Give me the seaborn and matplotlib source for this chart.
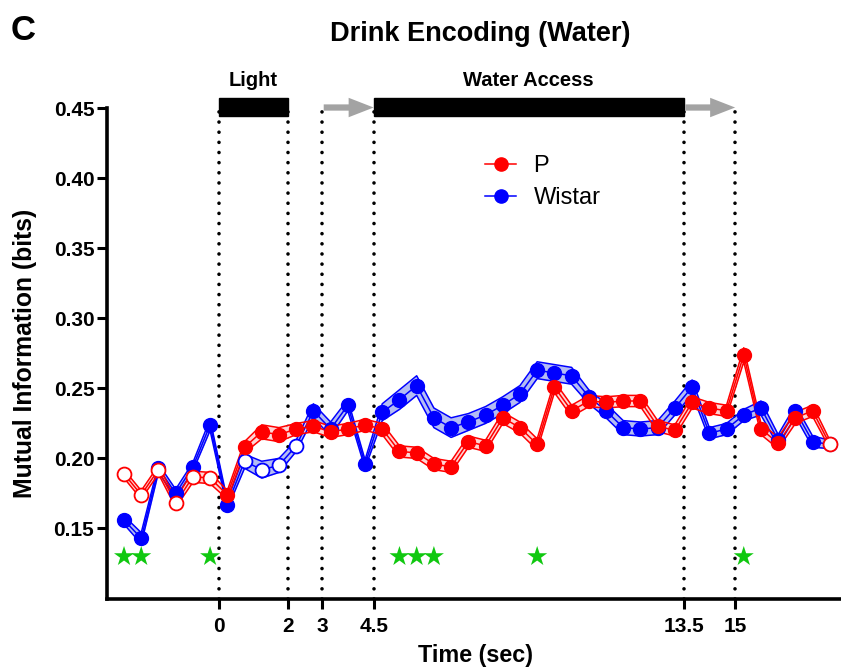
import numpy as np
import pandas as pd
import matplotlib
matplotlib.use("Agg")
import matplotlib.pyplot as plt
import seaborn as sns
from matplotlib.lines import Line2D
from matplotlib.patches import Rectangle

# Data: bin centres in seconds
time = [-2.75, -2.25, -1.75, -1.25, -0.75, -0.25, 0.25, 0.75, 1.25, 1.75, 2.25,
        2.75, 3.25, 3.75, 4.25, 4.75, 5.25, 5.75, 6.25, 6.75, 7.25, 7.75, 8.25,
        8.75, 9.25, 9.75, 10.25, 10.75, 11.25, 11.75, 12.25, 12.75, 13.25, 13.75,
        14.25, 14.75, 15.25, 15.75, 16.25, 16.75, 17.25, 17.75]

p_mean = [0.189, 0.174, 0.192, 0.168, 0.187, 0.186,
          0.174, 0.208, 0.219, 0.217, 0.221, 0.223, 0.219, 0.221, 0.224,
          0.221, 0.205, 0.204, 0.196, 0.194, 0.212, 0.209, 0.229, 0.222, 0.210,
          0.251, 0.234, 0.241, 0.240,
          0.241, 0.241, 0.223, 0.220, 0.240, 0.236, 0.234, 0.274, 0.221, 0.211,
          0.229, 0.234, 0.210]
p_sem = [0.003, 0.003, 0.003, 0.003, 0.004, 0.004,
         0.003, 0.004, 0.005, 0.005, 0.004, 0.004, 0.004, 0.004, 0.004,
         0.004, 0.004, 0.004, 0.004, 0.004, 0.004, 0.004, 0.004, 0.004, 0.004,
         0.004, 0.004, 0.004, 0.004,
         0.004, 0.004, 0.004, 0.004, 0.004, 0.004, 0.004, 0.005, 0.004, 0.004,
         0.004, 0.004, 0.003]
p_open = [1, 1, 1, 1, 1, 1] + [0] * 35 + [1]

w_mean = [0.156, 0.143, 0.193, 0.175, 0.194, 0.224,
          0.167, 0.198, 0.192, 0.195, 0.209, 0.234, 0.221, 0.238, 0.196,
          0.233, 0.242, 0.252, 0.229, 0.222, 0.226, 0.231, 0.238, 0.246, 0.263,
          0.261, 0.259, 0.244, 0.234,
          0.222, 0.221, 0.222, 0.236, 0.251, 0.218, 0.221, 0.231, 0.236, 0.213,
          0.234, 0.212, 0.210]
w_sem = [0.003, 0.004, 0.003, 0.003, 0.003, 0.004,
         0.003, 0.005, 0.006, 0.005, 0.004, 0.005, 0.005, 0.004, 0.003,
         0.006, 0.007, 0.007, 0.007, 0.007, 0.006, 0.006, 0.006, 0.006, 0.006,
         0.006, 0.006, 0.005, 0.005,
         0.005, 0.005, 0.005, 0.005, 0.005, 0.004, 0.004, 0.004, 0.005, 0.004,
         0.004, 0.004, 0.003]
w_open = [0] * 7 + [1, 1, 1, 1] + [0] * 31

star_times = [-2.75, -2.25, -0.25, 5.25, 5.75, 6.25, 9.25, 15.25]
event_times = [0, 2, 3, 4.5, 13.5, 15]
event_labels = ["0", "2", "3", "4.5", "13.5", "15"]

plt.rcParams["font.family"] = ["Liberation Sans", "DejaVu Sans"]

fig = plt.figure(figsize=(8.41, 6.68), dpi=100)
ax = fig.add_axes([0.127, 0.104, 0.872, 0.734])

series = [
    ("Wistar", w_mean, w_sem, w_open, "#0000ff", "#b4bcf4"),
    ("P", p_mean, p_sem, p_open, "#ff0000", "#ffd4d4"),
]

for name, mean, sem, is_open, col, light in series:
    df = pd.DataFrame({"time": time, "mi": mean, "sem": sem, "open": is_open})
    lo = df["mi"] - df["sem"]
    hi = df["mi"] + df["sem"]
    ax.fill_between(df["time"], lo, hi, color=light, lw=0, zorder=2)
    ax.plot(df["time"], lo, color=col, lw=1.1, zorder=3)
    ax.plot(df["time"], hi, color=col, lw=1.1, zorder=3)
    sns.lineplot(data=df, x="time", y="mi", color=col, lw=1.1, ax=ax, zorder=3)
    filled = df[df["open"] == 0]
    hollow = df[df["open"] == 1]
    sns.scatterplot(data=filled, x="time", y="mi", color=col, s=100,
                    edgecolor=col, linewidth=1.0, ax=ax, zorder=4)
    sns.scatterplot(data=hollow, x="time", y="mi", color="white", s=100,
                    edgecolor=col, linewidth=1.3, ax=ax, zorder=4)

# significance stars
sns.scatterplot(x=star_times, y=[0.13] * len(star_times), marker="*", s=230,
                color="#10c810", edgecolor="none", ax=ax, zorder=5)

# event lines
ax.vlines(event_times, 0.10, 0.45, colors="black", linestyles=(0, (0.01, 2.8)),
          lw=2.6, capstyle="round", zorder=1)

# top event bars and arrows
for x0, x1, label in [(0, 2, "Light"), (4.5, 13.5, "Water Access")]:
    ax.add_patch(Rectangle((x0, 0.4445), x1 - x0, 0.0125, facecolor="black",
                           edgecolor="black", clip_on=False, zorder=6))
    ax.text((x0 + x1) / 2, 0.4695, label, ha="center", va="center",
            fontsize=14.5, fontweight="bold", clip_on=False)
for x0, x1 in [(3, 4.5), (13.5, 15)]:
    ax.annotate("", xy=(x1, 0.4505), xytext=(x0 + 0.05, 0.4505),
                arrowprops=dict(facecolor="#a3a3a3", edgecolor="none", width=4.5,
                                headwidth=14, headlength=18, shrink=0),
                annotation_clip=False, zorder=6)

ax.set_xlim(-3.25, 18.05)
ax.set_ylim(0.10, 0.45)
ax.set_xticks(event_times)
ax.set_xticklabels(event_labels)
ax.set_yticks([0.15, 0.20, 0.25, 0.30, 0.35, 0.40, 0.45])
ax.set_yticklabels(["0.15", "0.20", "0.25", "0.30", "0.35", "0.40", "0.45"])
for lab in ax.get_xticklabels() + ax.get_yticklabels():
    lab.set_fontweight("bold")
ax.tick_params(axis="both", direction="out", length=7, width=2.2,
               labelsize=15, pad=2)
ax.tick_params(axis="x", pad=6)

for side in ["top", "right"]:
    ax.spines[side].set_visible(False)
for side in ["left", "bottom"]:
    ax.spines[side].set_linewidth(2.6)

ax.set_xlabel("Time (sec)", fontsize=16.8, fontweight="bold")
ax.xaxis.set_label_coords(0.503, -0.093)
ax.set_ylabel("Mutual Information (bits)", fontsize=17.8, fontweight="bold")
ax.yaxis.set_label_coords(-0.0955, 0.5)

handles = [
    Line2D([0], [0], color="#ff0000", marker="o", markersize=9.5, lw=1.1),
    Line2D([0], [0], color="#0000ff", marker="o", markersize=9.5, lw=1.1),
]
ax.legend(handles, ["P", "Wistar"], loc="upper left",
          bbox_to_anchor=(0.516, 0.905), frameon=False, fontsize=17,
          handlelength=1.3, handletextpad=0.75, labelspacing=0.45,
          borderpad=0, borderaxespad=0)

fig.text(0.571, 0.949, "Drink Encoding (Water)", ha="center", va="center",
         fontsize=19.5, fontweight="bold")
fig.text(0.013, 0.954, "C", ha="left", va="center", fontsize=25,
         fontweight="bold")

fig.savefig("out.png", dpi=100)
